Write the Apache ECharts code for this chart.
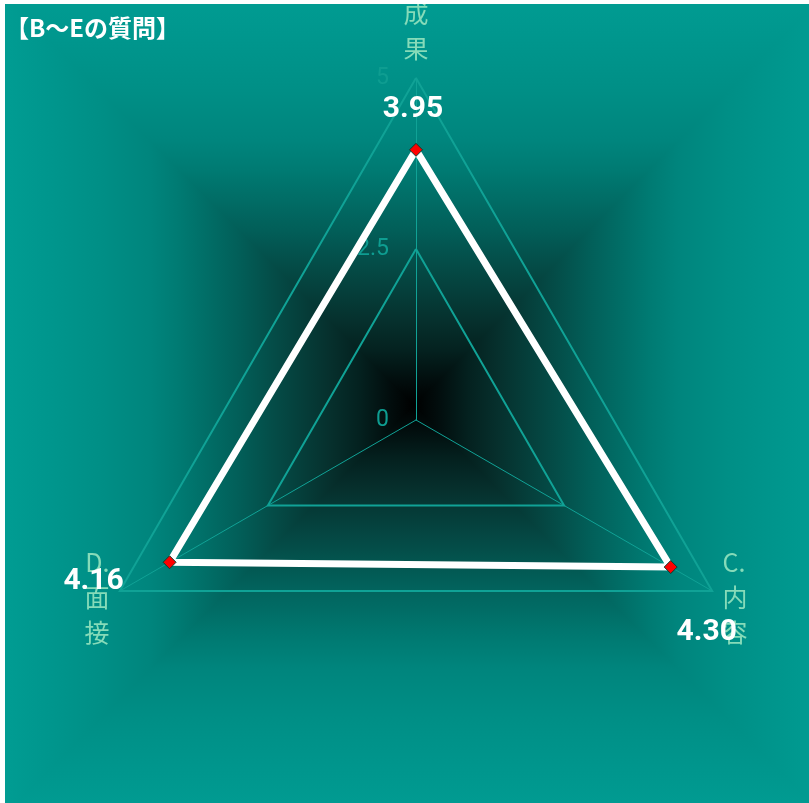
<!DOCTYPE html>
<html><head><meta charset="utf-8">
<script src="https://cdn.jsdelivr.net/npm/echarts@6/dist/echarts.min.js"></script>
<style>
html,body{margin:0;padding:0;background:#fff;width:809px;height:803px;overflow:hidden}
#c{position:absolute;left:5px;top:4px;width:804px;height:799px}
</style>
</head><body><div id="c"></div>
<script>
// ---- data ----
const TITLE = '【B〜Eの質問】';
const INDICATORS = ['B.成果', 'D.面接', 'C.内容'];
const MAX_VALUE = 5;
const SPLIT_NUMBER = 2;
const VALUES = [3.95, 4.16, 4.30];

// ---- layout / style ----
const W = 804, H = 799;
const CX = 411, CY = 416;     // radar centre (chart px)
const BX = 409, BY = 401;     // darkest point of background
const D = 420;                // fade distance
const TEAL = '#019e94';
const profile = [ // [distance from centre, colour]
  [420, '#019e94'], [364, '#00968d'], [314, '#008f86'], [264, '#00857d'],
  [234, '#007a72'], [204, '#016c65'], [174, '#025e58'], [144, '#044e49'],
  [114, '#053f3b'], [84, '#06302d'], [54, '#04211f'], [24, '#020d0d'], [0, '#000000']
];
const halfStops = profile.map(([d, c]) => ({ offset: 1 - d / D, color: c }));
const fullStops = [];
profile.forEach(([d, c]) => fullStops.push({ offset: 0.5 * (1 - d / D), color: c }));
profile.slice().reverse().forEach(([d, c]) => { if (d > 0) fullStops.push({ offset: 0.5 + 0.5 * d / D, color: c }); });

const L = 1200;
const graphics = [
  { type: 'rect', z: -100, silent: true, shape: { x: 0, y: 0, width: W, height: H },
    style: { fill: { type: 'linear', x: BX, y: BY - D, x2: BX, y2: BY + D, colorStops: fullStops, global: true } } },
  { type: 'polygon', z: -99, silent: true, shape: { points: [[BX - L, BY - L], [BX, BY], [BX - L, BY + L]] },
    style: { fill: { type: 'linear', x: BX - D, y: BY, x2: BX, y2: BY, colorStops: halfStops, global: true } } },
  { type: 'polygon', z: -99, silent: true, shape: { points: [[BX + L, BY - L], [BX, BY], [BX + L, BY + L]] },
    style: { fill: { type: 'linear', x: BX + D, y: BY, x2: BX, y2: BY, colorStops: halfStops, global: true } } }
];

const labelPad = { // padding used to shift each value label away from its point
  l0: [0, 6, 80, 0],
  l1: [38, 152, 0, 0],
  l2: [130, 0, 0, 72]
};
const labelText = { color: '#ffffff', fontSize: 30, fontWeight: 'bold', fontFamily: 'Roboto' };
const rich = {};
Object.keys(labelPad).forEach(k => { rich[k] = Object.assign({ padding: labelPad[k] }, labelText); });

const chart = echarts.init(document.getElementById('c'));
chart.setOption({
  backgroundColor: TEAL,
  animation: false,
  title: {
    text: TITLE, left: 0, top: 12, padding: 0,
    textStyle: { color: '#ffffff', fontSize: 24, fontWeight: 'bold', fontFamily: 'Noto Sans CJK JP' }
  },
  graphic: graphics,
  radar: {
    center: [CX, CY],
    radius: 342,
    shape: 'polygon',
    splitNumber: SPLIT_NUMBER,
    nameGap: 12,
    indicator: INDICATORS.map((n, i) => i === 0
      ? { name: n, min: 0, max: MAX_VALUE }
      : { name: n, min: 0, max: MAX_VALUE, axisLabel: { show: false } }),
    axisName: {
      color: '#86dbb9', fontSize: 25, lineHeight: 35, fontFamily: 'Noto Sans CJK JP',
      formatter: function (name) {
        const m = name.match(/^([A-Z]\.)(.*)$/);
        return m ? [m[1]].concat(m[2].split('')).join('\n') : name;
      }
    },
    axisLine: { lineStyle: { color: '#10a296', width: 1 } },
    splitLine: { lineStyle: { color: '#10a296', width: 2 } },
    splitArea: { show: false },
    axisTick: { show: false },
    axisLabel: { show: true, color: '#0e9d91', fontSize: 23, fontFamily: 'Roboto', margin: 27 }
  },
  series: [{
    type: 'radar',
    symbol: 'diamond',
    symbolSize: 13,
    lineStyle: { color: '#ffffff', width: 7 },
    itemStyle: { color: '#ff0000', borderColor: '#0a3d30', borderWidth: 1 },
    label: {
      show: true,
      position: 'inside',
      formatter: function (p) {
        const i = VALUES.indexOf(p.value);
        return '{l' + i + '|' + Number(p.value).toFixed(2) + '}';
      },
      rich: rich
    },
    data: [{ value: VALUES, name: '平均' }]
  }]
});
</script>
</body></html>
